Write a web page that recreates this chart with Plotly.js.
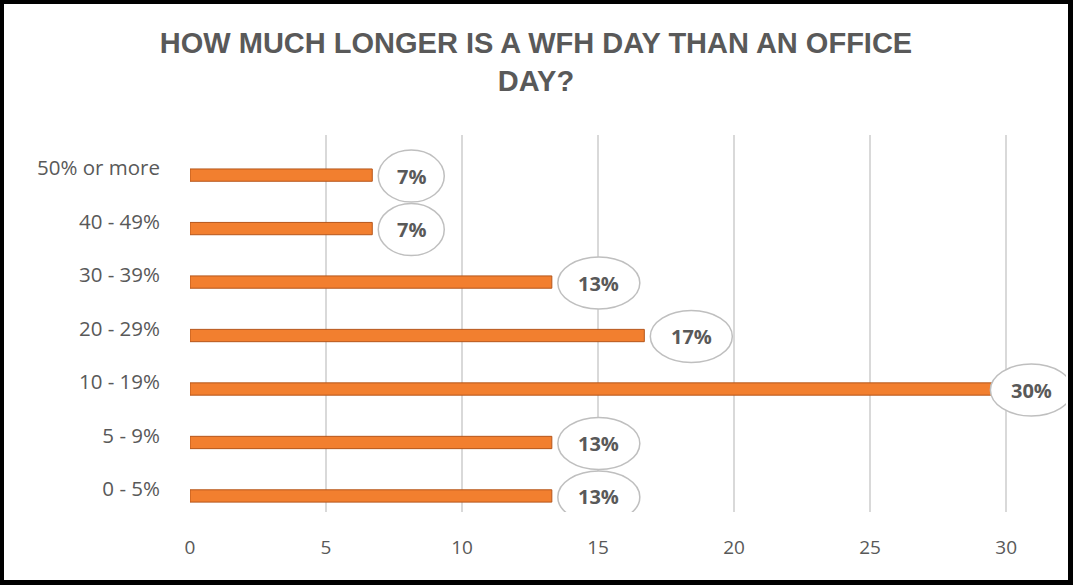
<!DOCTYPE html>
<html>
<head>
<meta charset="utf-8">
<script src="https://cdn.plot.ly/plotly-3.0.1.min.js"></script>
<style>
html,body{margin:0;padding:0;background:#fff;}
#wrap{width:1073px;height:585px;box-sizing:border-box;border-style:solid;border-color:#000;border-width:4px 5px 5px 4px;overflow:hidden;}
#chart{width:1064px;height:576px;}
</style>
</head>
<body>
<div id="wrap"><div id="chart"></div></div>
<script>
const categories = ["0 - 5%", "5 - 9%", "10 - 19%", "20 - 29%", "30 - 39%", "40 - 49%", "50% or more"];
const values = [13.3, 13.3, 30, 16.7, 13.3, 6.7, 6.7];
const labels = values.map(v => Math.round(v) + "%");
const xTicks = [0, 5, 10, 15, 20, 25, 30];

const idx = categories.map((c, i) => i);
const labelMaxAnchor = 29.2; // labels that would overflow are pulled inside

const trace = {
  type: "bar",
  orientation: "h",
  x: values,
  y: idx,
  width: 0.23,
  marker: {
    color: "#f27f2f",
    line: {color: "#b5561b", width: 1}
  },
  hoverinfo: "none"
};

const shapes = values.map((v, i) => {
  const w = labels[i].length > 2 ? 82 : 66;
  return {
    type: "circle", xref: "x", yref: "y",
    xsizemode: "pixel", ysizemode: "pixel",
    xanchor: Math.min(v, labelMaxAnchor), yanchor: i,
    x0: 6, x1: 6 + w, y0: -27, y1: 25,
    line: {color: "#bfbfbf", width: 1.5},
    fillcolor: "#ffffff",
    layer: "above"
  };
});

const annotations = values.map((v, i) => {
  const w = labels[i].length > 2 ? 82 : 66;
  return {
    x: Math.min(v, labelMaxAnchor), y: i, xref: "x", yref: "y",
    text: "<b>" + labels[i] + "</b>",
    showarrow: false,
    xanchor: "center", yanchor: "middle",
    xshift: 6 + w / 2, yshift: -1,
    font: {family: "Open Sans, sans-serif", size: 20, color: "#595959"}
  };
});

const layout = {
  width: 1064, height: 576,
  margin: {l: 186, r: 2, t: 131, b: 68},
  paper_bgcolor: "#ffffff",
  plot_bgcolor: "#ffffff",
  showlegend: false,
  title: {
    text: "<b>HOW MUCH LONGER IS A WFH DAY THAN AN OFFICE<br>DAY?</b>",
    x: 0.5, xanchor: "center",
    y: 0.915, yanchor: "top",
    font: {family: "Liberation Sans, Arial, sans-serif", size: 29, color: "#595959"}
  },
  xaxis: {
    range: [0, 32.2],
    tickvals: xTicks,
    ticktext: xTicks.map(String),
    showgrid: true,
    gridcolor: "#d9d9d9",
    gridwidth: 2,
    zeroline: false,
    showline: false,
    ticks: "",
    ticklabelstandoff: 22,
    tickfont: {family: "Open Sans, sans-serif", size: 19, color: "#595959"}
  },
  yaxis: {
    range: [-0.3, 6.75],
    tickvals: idx,
    ticktext: categories,
    showgrid: false,
    zeroline: false,
    showline: false,
    ticks: "",
    ticklabelstandoff: 29,
    ticklabelshift: -7,
    tickfont: {family: "Open Sans, sans-serif", size: 20.5, color: "#595959"}
  },
  shapes: shapes,
  annotations: annotations
};

Plotly.newPlot("chart", [trace], layout, {displayModeBar: false, staticPlot: true});
</script>
</body>
</html>
